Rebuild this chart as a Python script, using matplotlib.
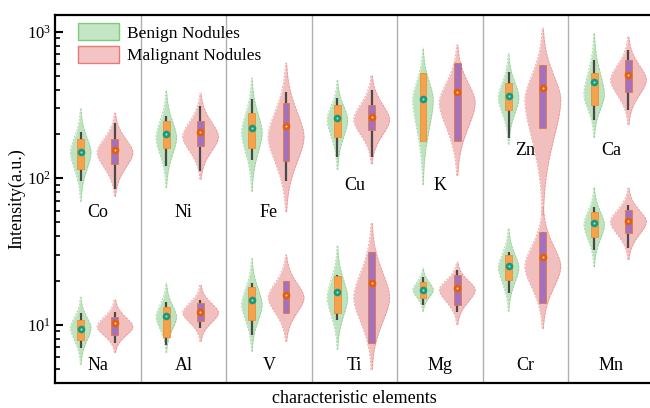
import numpy as np
import matplotlib
matplotlib.use('Agg')
import matplotlib.pyplot as plt
from matplotlib.patches import Patch, Rectangle

plt.rcParams['font.family'] = ['Liberation Serif', 'DejaVu Serif']
plt.rcParams['mathtext.fontset'] = 'stix'

# element pairs sharing one column: upper row / lower row
elements_top = ['Co', 'Ni', 'Fe', 'Cu', 'K', 'Zn', 'Ca']
elements_bot = ['Na', 'Al', 'V', 'Ti', 'Mg', 'Cr', 'Mn']
label_top_y = [58, 58, 58, 89, 89, 155, 155]

# benign nodules (top row Co..Ca, then bottom row Na..Mn)
b_min = [69, 86, 81, 114, 90, 170, 189, 5.33, 6.44, 6.55, 6.75, 12.3, 12.3, 24.8]
b_peak = [150, 189, 205, 251, 344, 355, 372, 9.55, 11.3, 13.7, 15.3, 17.3, 24.5, 48.2]
b_max = [300, 402, 485, 470, 778, 717, 984, 15.5, 19.4, 28.7, 34.6, 24.5, 45.9, 87.5]
b_q1 = [116, 160, 162, 192, 180, 294, 318, 7.90, 8.28, 10.8, 12.1, 15.3, 20.3, 39.8]
b_q3 = [186, 247, 280, 318, 525, 448, 525, 10.8, 13.3, 18.2, 21.6, 19.7, 30.1, 59.1]
b_wlo = [95, 121, 134, 139, 180, 189, 251, 6.97, 7.3, 8.55, 10.8, 13.7, 16.5, 32.5]
b_whi = [206, 267, 349, 355, 525, 534, 644, 12.1, 14.3, 19.4, 21.9, 21.0, 31.5, 64]
b_mean = [152, 201, 221, 259, 349, 366, 455, 9.40, 11.5, 14.8, 16.8, 17.3, 25.3, 49.7]

# malignant nodules
m_min = [75, 98, 59, 125, 104, 56, 232, 6.44, 7.66, 7.66, 4.93, 10.0, 9.40, 27.8]
m_peak = [150, 192, 192, 251, 328, 344, 470, 9.7, 12.1, 15.3, 15.3, 17.3, 25.0, 50.5]
m_max = [280, 383, 614, 510, 817, 1065, 925, 15.0, 18.8, 30.1, 49.7, 26.9, 64.0, 86.2]
m_q1 = [125, 165, 132, 214, 180, 221, 390, 8.55, 10.6, 12.1, 7.54, 13.7, 14.1, 42.4]
m_q3 = [186, 247, 328, 318, 614, 595, 644, 11.3, 14.1, 20.0, 31.5, 21.9, 43.1, 61]
m_wlo = [85, 112, 96, 139, 180, 221, 294, 7.54, 9.55, 12.1, 7.54, 12.3, 14.1, 33.5]
m_whi = [237, 313, 390, 402, 614, 595, 754, 12.3, 14.8, 20.0, 31.5, 23.7, 43.1, 66]
m_mean = [155, 207, 228, 263, 390, 415, 510, 10.3, 12.3, 16.0, 19.4, 17.9, 29.1, 51.3]

fig = plt.figure(figsize=(6.5, 4.08), dpi=100)
ax = fig.add_axes([55 / 650, 25 / 408, 599 / 650, 368 / 408])


def violin(x, vmin, vpeak, vmax, hw, fc, ec):
    lo, pk, hi = np.log10(vmin), np.log10(vpeak), np.log10(vmax)
    ly = np.linspace(lo, hi, 200)
    s = np.where(ly > pk, (hi - pk) / 2.9, (pk - lo) / 2.9)
    w = hw * np.exp(-0.5 * np.abs((ly - pk) / s) ** 1.8)
    y = 10 ** ly
    ax.fill_betweenx(y, x - w, x + w, color=fc, lw=0, zorder=2)
    ax.plot(x - w, y, color=ec, lw=0.5, ls=(0, (3, 2)), alpha=0.8, zorder=2.1)
    ax.plot(x + w, y, color=ec, lw=0.5, ls=(0, (3, 2)), alpha=0.8, zorder=2.1)


def boxpart(x, q1, q3, wlo, whi, mean, boxc, boxec, meanc, hl):
    ax.plot([x, x], [wlo, whi], color='#4a4a4a', lw=1.6, zorder=3, solid_capstyle='butt')
    ax.add_patch(Rectangle((x - 0.04, q1), 0.08, q3 - q1, fc=boxc, ec=boxec, lw=0.6, zorder=4))
    ax.plot([x], [mean], 'o', color=meanc, ms=5.5, mec=meanc, mew=0, zorder=5)
    ax.plot([x], [mean], 'o', color=hl, ms=1.5, mew=0, zorder=6)


n = len(elements_top)
for k in range(2 * n):
    xc = (k % n) + 0.5
    xb, xm = xc - 0.2, xc + 0.2
    violin(xb, b_min[k], b_peak[k], b_max[k], 0.12, '#bfe3bf', '#79c879')
    violin(xm, m_min[k], m_peak[k], m_max[k], 0.21, '#f2bfbf', '#e87b7b')
    boxpart(xb, b_q1[k], b_q3[k], b_wlo[k], b_whi[k], b_mean[k], '#f6a24a', '#e8903a', '#199a7c', '#a8e0d0')
    boxpart(xm, m_q1[k], m_q3[k], m_wlo[k], m_whi[k], m_mean[k], '#a470c0', '#e07a3a', '#e2600c', '#f8c8a0')

for i in range(n):
    ax.text(i + 0.5, label_top_y[i], elements_top[i], ha='center', va='center', fontsize=13)
    ax.text(i + 0.5, 5.3, elements_bot[i], ha='center', va='center', fontsize=13)
for i in range(1, n):
    ax.axvline(i, color='#b0b0b0', lw=1, zorder=1)

ax.set_yscale('log')
ax.set_ylim(4.0, 1300)
ax.set_xlim(0, n)
ax.set_xticks([])
ax.tick_params(axis='y', which='major', direction='in', length=6, width=1.5, labelsize=12, pad=3)
ax.tick_params(axis='y', which='minor', direction='in', length=3.5, width=1.2)
for sp in ['left', 'bottom', 'top']:
    ax.spines[sp].set_linewidth(1.6)
ax.spines['right'].set_visible(False)
ax.set_ylabel('Intensity(a.u.)', fontsize=13, labelpad=1)
ax.set_xlabel('characteristic elements', fontsize=13, labelpad=5)

handles = [Patch(fc='#c4e6c4', ec='#7ccc7c', lw=1), Patch(fc='#f4c4c4', ec='#e87878', lw=1)]
ax.legend(handles, ['Benign Nodules', 'Malignant Nodules'], loc='upper left',
          bbox_to_anchor=(0.012, 1.02), frameon=False, fontsize=12.5,
          handlelength=2.4, handleheight=1.1, handletextpad=0.45, labelspacing=0.25)

fig.savefig('out.png', dpi=100)
